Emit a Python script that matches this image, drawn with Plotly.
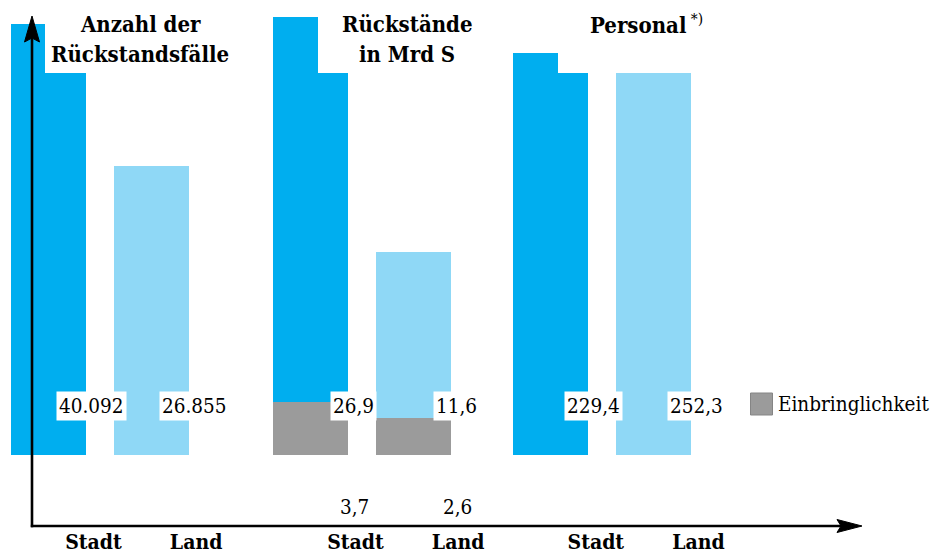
import plotly.graph_objects as go

# ---------------- data ----------------
categories = ["Stadt", "Land"]
faelle = [40092, 26855]            # Anzahl der Rückstandsfälle
rueckstaende = [26.9, 11.6]        # Rückstände in Mrd S
einbringlichkeit = [3.7, 2.6]      # davon Einbringlichkeit
personal = [229.4, 252.3]          # Personal
title_lines = [["Anzahl der", "Rückstandsfälle"], ["Rückstände", "in Mrd S"],
               ["Personal<sup><span style='font-weight:normal'> *)</span></sup>"]]
legend_label = "Einbringlichkeit"


def fmt_int(v):
    return f"{v:,}".replace(",", ".")


def fmt_dec(v):
    return f"{v:.1f}".replace(".", ",")


# ---------------- layout helpers ----------------
W, H = 933, 555
FONT = "DejaVu Serif Condensed, DejaVu Serif"
STADT = "#00AEEF"
LAND = "#8FD8F6"
GREY = "#9B9B9B"


def px(p):
    return p / W


def py(p):
    return (H - p) / H


AXIS_Y_PX = 526      # pixel row of the x-axis arrow
BASE_PX = 455        # pixel row of the bar baseline
UNIT = 102.6         # pixels per category step
BAR_W = 75 / UNIT
centers0 = [48.5, 310.5, 550.8]
axis_top = [42300, 31.8, 259.6]   # value at the top edge of each panel

fig = go.Figure()

colors = [STADT, LAND]
fig.add_trace(go.Bar(x=categories, y=faelle, marker=dict(color=colors, line=dict(width=0)),
                     width=BAR_W, xaxis="x", yaxis="y"))
fig.add_trace(go.Bar(x=categories, y=einbringlichkeit, marker=dict(color=GREY, line=dict(width=0)),
                     width=BAR_W, xaxis="x2", yaxis="y2", name=legend_label))
fig.add_trace(go.Bar(x=categories, y=rueckstaende, marker=dict(color=colors, line=dict(width=0)),
                     width=BAR_W, xaxis="x2", yaxis="y2"))
fig.add_trace(go.Bar(x=categories, y=personal, marker=dict(color=colors, line=dict(width=0)),
                     width=BAR_W, xaxis="x3", yaxis="y3"))

layout = dict(
    width=W, height=H, autosize=False, margin=dict(l=0, r=0, t=0, b=0, pad=0, autoexpand=False),
    paper_bgcolor="white", plot_bgcolor="white",
    barmode="stack", showlegend=False,
    font=dict(family=FONT, color="black"),
)

for g in range(3):
    left = centers0[g] - 0.45 * UNIT
    right = left + 2 * UNIT
    sfx = "" if g == 0 else str(g + 1)
    layout["xaxis" + sfx] = dict(
        type="category", range=[-0.45, 1.55], domain=[px(left), px(right)],
        anchor="y" + sfx, showgrid=False, zeroline=False, showline=False, ticks="",
        tickfont=dict(family=FONT, size=21, color="black", weight="bold"),
        ticklabelshift=45, ticklabelstandoff=1, fixedrange=True, automargin=False,
    )
    top = axis_top[g]
    layout["yaxis" + sfx] = dict(
        domain=[py(AXIS_Y_PX), 1],
        range=[-top * (AXIS_Y_PX - BASE_PX) / BASE_PX, top],
        anchor="x" + sfx, visible=False, fixedrange=True, automargin=False,
    )

fig.update_layout(**layout)

annotations = []
label_sets = [
    ("x", [fmt_int(v) for v in faelle]),
    ("x2", [fmt_dec(v) for v in rueckstaende]),
    ("x3", [fmt_dec(v) for v in personal]),
]
for xref, labels in label_sets:
    for cat, lab in zip(categories, labels):
        annotations.append(dict(
            x=cat, xref=xref, y=py(406), yref="paper", text=lab, showarrow=False,
            xanchor="center", yanchor="middle",
            xshift=43, bgcolor="white", borderpad=2,
            font=dict(family=FONT, size=20.5, color="black"),
        ))
for cat, v in zip(categories, einbringlichkeit):
    annotations.append(dict(
        x=cat, xref="x2", y=py(507), yref="paper", text=fmt_dec(v), showarrow=False,
        xanchor="center", yanchor="middle",
        xshift=44, font=dict(family=FONT, size=20.5, color="black"),
    ))

title_centers = [140, 407, 646]
line_rows = [24.5, 54]
for g, lines in enumerate(title_lines):
    for k, line in enumerate(lines):
        annotations.append(dict(
            x=px(title_centers[g]), xref="paper", y=py(line_rows[k]), yref="paper",
            xanchor="center", yanchor="middle",
            text=line, showarrow=False,
            font=dict(family=FONT, size=22, color="black", weight="bold"),
        ))

annotations.append(dict(
    x=px(776), xref="paper", y=py(404), yref="paper", xanchor="left", yanchor="middle",
    text=legend_label, showarrow=False, font=dict(family=FONT, size=20.5, color="black"),
))

shapes = []
for x0, x1 in [(45, 255), (318, 500), (558, 720)]:
    shapes.append(dict(type="rect", xref="paper", yref="paper", layer="above",
                       x0=px(x0), x1=px(x1), y0=py(73), y1=1.02,
                       fillcolor="white", line=dict(width=0)))
shapes.append(dict(type="line", xref="paper", yref="paper", layer="above",
                   x0=px(32), x1=px(32), y0=py(527.2), y1=py(36),
                   line=dict(color="black", width=2.6)))
shapes.append(dict(type="line", xref="paper", yref="paper", layer="above",
                   x0=px(30.8), x1=px(845), y0=py(AXIS_Y_PX), y1=py(AXIS_Y_PX),
                   line=dict(color="black", width=2.6)))


def path(points):
    return "M " + " L ".join(f"{px(a):.5f},{py(b):.5f}" for a, b in points) + " Z"


shapes.append(dict(type="path", xref="paper", yref="paper", layer="above",
                   path=path([(32, 16), (39.5, 42), (32, 38), (24.5, 42)]),
                   fillcolor="black", line=dict(color="black", width=1)))
shapes.append(dict(type="path", xref="paper", yref="paper", layer="above",
                   path=path([(862, AXIS_Y_PX), (837, AXIS_Y_PX + 6.5), (841, AXIS_Y_PX), (837, AXIS_Y_PX - 6.5)]),
                   fillcolor="black", line=dict(color="black", width=1)))
shapes.append(dict(type="rect", xref="paper", yref="paper", layer="above",
                   x0=px(750.5), x1=px(772.5), y0=py(415), y1=py(393),
                   fillcolor=GREY, line=dict(color="#858585", width=1)))

fig.update_layout(annotations=annotations, shapes=shapes)

fig.write_html("out.html")
